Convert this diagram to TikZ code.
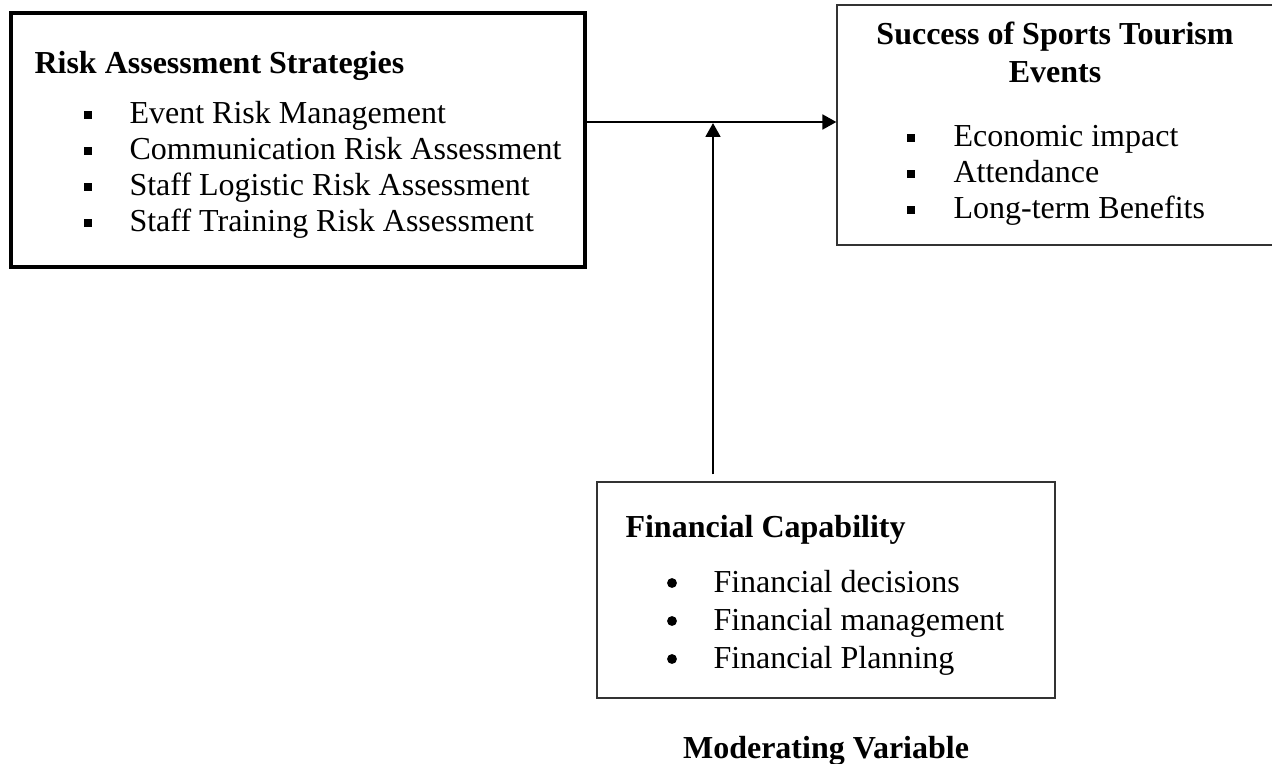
\documentclass[tikz,border=0pt]{standalone}
\usepackage{fontspec}
\setmainfont{Liberation Serif}
\usetikzlibrary{arrows.meta}
\begin{document}
\begin{tikzpicture}[x=0.375pt,y=-0.375pt,
  txt/.style={inner sep=0pt, anchor=base west, font=\fontsize{12}{13.8}\selectfont},
  hd/.style={inner sep=0pt, anchor=base west, font=\fontsize{12}{13.8}\selectfont\bfseries},
  sqb/.style={fill=black, rectangle, minimum width=2.9pt, minimum height=3.1pt, inner sep=0pt},
  rdb/.style={fill=black, circle, minimum size=3.7pt, inner sep=0pt},
  thinbox/.style={draw=black!80, line width=0.5pt, inner sep=0pt},
  thickbox/.style={draw=black, line width=1.3pt, inner sep=0pt},
  link/.style={line width=0.75pt, -{Triangle[length=5.2pt,width=5.6pt]}}
]
\useasboundingbox (0,0) rectangle (1272,764);
\fill[white] (0,0) rectangle (1272,764);

% independent variable
\node[thickbox, minimum width=574*0.375pt, minimum height=254*0.375pt] (risk) at (298,140) {};
\node[hd] (riskT) at (34,73) {Risk Assessment Strategies};
\node[sqb] (rb1) at (88,115) {};
\node[sqb] (rb2) at (88,151) {};
\node[sqb] (rb3) at (88,187) {};
\node[sqb] (rb4) at (88,223) {};
\node[txt] (r1) at (129,123) {Event Risk Management};
\node[txt] (r2) at (129,159) {Communication Risk Assessment};
\node[txt] (r3) at (129,195) {Staff Logistic Risk Assessment};
\node[txt] (r4) at (129,231) {Staff Training Risk Assessment};

% dependent variable
\node[thinbox, minimum width=439*0.375pt, minimum height=240*0.375pt] (success) at (1056.5,125) {};
\node[hd, anchor=base] (sucT1) at (1055,45) {Success of Sports Tourism};
\node[hd, anchor=base] (sucT2) at (1055,82) {Events};
\node[sqb] (sb1) at (911,138) {};
\node[sqb] (sb2) at (911,174) {};
\node[sqb] (sb3) at (911,210) {};
\node[txt] (s1) at (953,146) {Economic impact};
\node[txt] (s2) at (953,182) {Attendance};
\node[txt] (s3) at (953,218) {Long-term Benefits};

% moderating variable
\node[thinbox, minimum width=458*0.375pt, minimum height=216*0.375pt] (fin) at (826,590) {};
\node[hd] (finT) at (625,537) {Financial Capability};
\node[rdb] (fb1) at (672,583) {};
\node[rdb] (fb2) at (672,621) {};
\node[rdb] (fb3) at (672,659) {};
\node[txt] (f1) at (713,592) {Financial decisions};
\node[txt] (f2) at (713,630) {Financial management};
\node[txt] (f3) at (713,668) {Financial Planning};
\node[hd, anchor=base] (mod) at (826,758) {Moderating Variable};

% connectors
\coordinate (j) at (713,122);
\draw[link] (risk.east |- j) -- (success.west |- j);
\draw[link] ([yshift=2.6pt]fin.north -| j) -- ([yshift=-0.4pt]j);
\end{tikzpicture}
\end{document}
